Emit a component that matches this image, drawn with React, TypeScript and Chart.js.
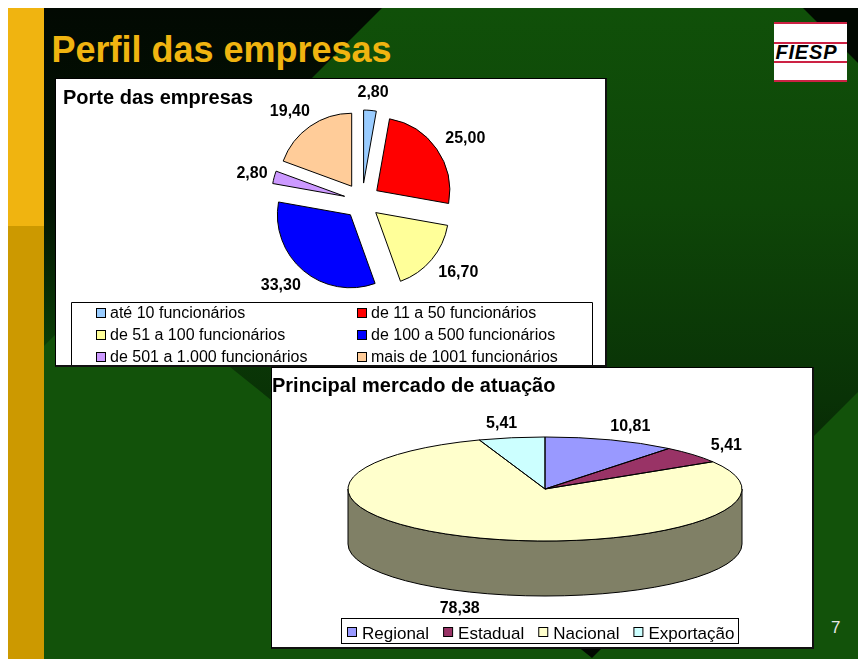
import React, { useEffect, useRef } from 'react';
import { Chart, registerables } from 'chart.js';

Chart.register(...registerables);

const FONT = '"Liberation Sans", Arial, Helvetica, sans-serif';

// ---- Data: Porte das empresas ----
const porteLabels = [
  'até 10 funcionários',
  'de 11 a 50 funcionários',
  'de 51 a 100 funcionários',
  'de 100 a 500 funcionários',
  'de 501 a 1.000 funcionários',
  'mais de 1001 funcionários',
];
const porteValues = [2.8, 25.0, 16.7, 33.3, 2.8, 19.4];

// ---- Data: Principal mercado de atuação ----
const mercadoLabels = ['Regional', 'Estadual', 'Nacional', 'Exportação'];
const mercadoValues = [10.81, 5.41, 78.38, 5.41];

// ---- Styles ----
const porteColors = ['#99CCFF', '#FF0000', '#FFFF99', '#0000FF', '#CC99FF', '#FFCC99'];
const mercadoColors = ['#9999FF', '#993366', '#FFFFCC', '#CCFFFF'];
const mercadoSideColors = ['#4D4D80', '#4D1A33', '#808066', '#668080'];

const fmt = (v: number) => v.toFixed(2).replace('.', ',');

function PorteChart() {
  const ref = useRef<HTMLCanvasElement>(null);
  useEffect(() => {
    const W = 549, H = 286, CX = 306, CY = 122, R = 73, EXPLODE = 18;
    const deco = {
      id: 'porteDeco',
      beforeDatasetDraw(chart: any, args: any) {
        const ctx = chart.ctx;
        args.meta.data.forEach((arc: any) => {
          const m = (arc.startAngle + arc.endAngle) / 2;
          ctx.save();
          ctx.translate(Math.cos(m) * EXPLODE, Math.sin(m) * EXPLODE);
          arc.draw(ctx);
          ctx.restore();
        });
        return false;
      },
      afterDraw(chart: any) {
        const ctx = chart.ctx;
        ctx.save();
        ctx.fillStyle = '#000';
        ctx.font = `bold 20px ${FONT}`;
        ctx.textAlign = 'left';
        ctx.textBaseline = 'alphabetic';
        ctx.fillText('Porte das empresas', 7, 25.3);

        // data labels
        ctx.font = `bold 16px ${FONT}`;
        ctx.textAlign = 'center';
        ctx.textBaseline = 'middle';
        const meta = chart.getDatasetMeta(0);
        meta.data.forEach((arc: any, i: number) => {
          const m = (arc.startAngle + arc.endAngle) / 2;
          const dx = Math.max(-110, Math.min(110, 126 * Math.cos(m)));
          const x = arc.x + dx;
          const y = arc.y + 110 * Math.sin(m);
          ctx.fillText(fmt(porteValues[i]), x, y + 1);
        });

        // legend
        const LX = 15, LT = 223, LR = 536;
        ctx.strokeStyle = '#000';
        ctx.lineWidth = 1;
        ctx.beginPath();
        ctx.moveTo(LX + 0.5, H + 5);
        ctx.lineTo(LX + 0.5, LT + 0.5);
        ctx.lineTo(LR + 0.5, LT + 0.5);
        ctx.lineTo(LR + 0.5, H + 5);
        ctx.stroke();
        ctx.font = `16px ${FONT}`;
        ctx.textAlign = 'left';
        ctx.textBaseline = 'alphabetic';
        porteLabels.forEach((lab, i) => {
          const col = i % 2, row = Math.floor(i / 2);
          const mx = LX + 25 + col * 261;
          const rc = LT + 10.7 + row * 21.65;
          ctx.fillStyle = porteColors[i];
          ctx.fillRect(mx + 0.5, Math.round(rc - 4.5) + 0.5, 9, 9);
          ctx.strokeRect(mx + 0.5, Math.round(rc - 4.5) + 0.5, 9, 9);
          ctx.fillStyle = '#000';
          ctx.fillText(lab, mx + 14, rc + 5.7);
        });
        ctx.restore();
      },
    };
    const chart = new Chart(ref.current as HTMLCanvasElement, {
      type: 'pie',
      data: {
        labels: porteLabels,
        datasets: [
          {
            data: porteValues,
            backgroundColor: porteColors,
            borderColor: '#000',
            borderWidth: 1,
            radius: R,
          } as any,
        ],
      },
      options: {
        responsive: false,
        animation: false,
        events: [],
        layout: { padding: { left: 2 * CX - W, right: 0, top: 0, bottom: H - 2 * CY } },
        plugins: { legend: { display: false }, tooltip: { enabled: false }, title: { display: false } },
      },
      plugins: [deco],
    });
    return () => chart.destroy();
  }, []);
  return <canvas ref={ref} width={549} height={286} style={{ position: 'absolute', left: 0, top: 0, display: 'block' }} />;
}

function MercadoChart() {
  const ref = useRef<HTMLCanvasElement>(null);
  useEffect(() => {
    const W = 540, H = 279, CX = 273, CY = 121, R = 197, TILT = 0.264, DEPTH = 55;
    const deco = {
      id: 'mercadoDeco',
      beforeDatasetDraw(chart: any, args: any) {
        const ctx = chart.ctx;
        const arcs = args.meta.data;
        const cx = arcs[0].x, cy = arcs[0].y, r = arcs[0].outerRadius, ry = r * TILT;
        ctx.save();
        ctx.lineWidth = 1;
        ctx.strokeStyle = '#000';
        // side walls (front half only)
        arcs.forEach((arc: any, i: number) => {
          const a = Math.max(arc.startAngle, 0);
          const b = Math.min(arc.endAngle, Math.PI);
          if (b <= a) return;
          ctx.beginPath();
          ctx.ellipse(cx, cy, r, ry, 0, a, b);
          ctx.lineTo(cx + r * Math.cos(b), cy + ry * Math.sin(b) + DEPTH);
          ctx.ellipse(cx, cy + DEPTH, r, ry, 0, b, a, true);
          ctx.closePath();
          ctx.fillStyle = mercadoSideColors[i];
          ctx.fill();
          ctx.stroke();
        });
        // top faces
        ctx.save();
        ctx.translate(cx, cy);
        ctx.scale(1, TILT);
        ctx.translate(-cx, -cy);
        arcs.forEach((arc: any) => arc.draw(ctx));
        ctx.restore();
        // outlines
        arcs.forEach((arc: any) => {
          ctx.beginPath();
          ctx.moveTo(cx, cy);
          ctx.ellipse(cx, cy, r, ry, 0, arc.startAngle, arc.endAngle);
          ctx.closePath();
          ctx.stroke();
        });
        ctx.restore();
        return false;
      },
      afterDraw(chart: any) {
        const ctx = chart.ctx;
        ctx.save();
        ctx.fillStyle = '#000';
        ctx.font = `bold 20px ${FONT}`;
        ctx.textAlign = 'left';
        ctx.textBaseline = 'alphabetic';
        ctx.fillText('Principal mercado de atuação', 0, 23.5);

        // data labels
        ctx.font = `bold 16px ${FONT}`;
        ctx.textAlign = 'center';
        ctx.textBaseline = 'middle';
        const meta = chart.getDatasetMeta(0);
        meta.data.forEach((arc: any, i: number) => {
          const m = (arc.startAngle + arc.endAngle) / 2;
          const txt = fmt(mercadoValues[i]);
          const w = ctx.measureText(txt).width;
          const r = arc.outerRadius;
          let x = arc.x + 1.3 * r * Math.cos(m);
          x = Math.max(arc.x - r + w / 2, Math.min(arc.x + r - w / 2, x));
          const s = Math.sin(m);
          const y = arc.y + TILT * 1.3 * r * s + (s > 0 ? DEPTH : 0);
          ctx.fillText(txt, x, y + 1);
        });

        // legend
        ctx.font = `17px ${FONT}`;
        ctx.textAlign = 'left';
        ctx.textBaseline = 'alphabetic';
        const LX = 69, LT = 250, LB = 275;
        let x = LX + 6;
        const mTop = 259;
        mercadoLabels.forEach((lab, i) => {
          ctx.fillStyle = mercadoColors[i];
          ctx.fillRect(x + 0.5, mTop + 0.5, 9, 9);
          ctx.strokeStyle = '#000';
          ctx.lineWidth = 1;
          ctx.strokeRect(x + 0.5, mTop + 0.5, 9, 9);
          ctx.fillStyle = '#000';
          ctx.fillText(lab, x + 15, 271);
          x += 15 + ctx.measureText(lab).width + 14;
        });
        const LR = Math.round(x - 14 + 4);
        ctx.strokeStyle = '#000';
        ctx.strokeRect(LX + 0.5, LT + 0.5, LR - LX, LB - LT);
        ctx.restore();
      },
    };
    const chart = new Chart(ref.current as HTMLCanvasElement, {
      type: 'pie',
      data: {
        labels: mercadoLabels,
        datasets: [
          {
            data: mercadoValues,
            backgroundColor: mercadoColors,
            borderWidth: 0,
            radius: R,
          } as any,
        ],
      },
      options: {
        responsive: false,
        animation: false,
        events: [],
        layout: { padding: { left: 2 * CX - W, right: 0, top: 0, bottom: H - 2 * CY } },
        plugins: { legend: { display: false }, tooltip: { enabled: false }, title: { display: false } },
      },
      plugins: [deco],
    });
    return () => chart.destroy();
  }, []);
  return <canvas ref={ref} width={540} height={279} style={{ position: 'absolute', left: 0, top: 0, display: 'block' }} />;
}

export default function App() {
  const boxStyle = (left: number, top: number, width: number, height: number): React.CSSProperties => ({
    position: 'absolute',
    left,
    top,
    width,
    height,
    boxSizing: 'border-box',
    background: '#fff',
    borderTop: '1px solid #000',
    borderLeft: '1px solid #000',
    borderRight: '2px solid #111',
    borderBottom: '2px solid #111',
    overflow: 'hidden',
  });
  const redLine = (top: number): React.CSSProperties => ({
    position: 'absolute', left: 0, top, width: 73, height: 2, background: '#CC2244',
  });
  return (
    <div style={{ position: 'fixed', left: 8, top: 8, width: 850, height: 651, overflow: 'hidden', fontFamily: FONT }}>
      <svg width={850} height={651} style={{ position: 'absolute', left: 0, top: 0 }}>
        <defs>
          <linearGradient id="band" x1="0" y1="0" x2="0" y2="651" gradientUnits="userSpaceOnUse">
            <stop offset="0" stopColor="#105009" />
            <stop offset="0.3" stopColor="#0E4608" />
            <stop offset="0.6" stopColor="#093206" />
            <stop offset="1" stopColor="#010801" />
          </linearGradient>
          <linearGradient id="tl" x1="0" y1="0" x2="0" y2="338" gradientUnits="userSpaceOnUse">
            <stop offset="0" stopColor="#020902" />
            <stop offset="0.6" stopColor="#031503" />
            <stop offset="1" stopColor="#0B3F07" />
          </linearGradient>
        </defs>
        <rect x={0} y={0} width={850} height={651} fill="#12520A" />
        <polygon points="374,0 795,0 850,55 850,384 584,650 222,359 36,210" fill="url(#band)" />
        <polygon points="36,0 374,0 36,338" fill="url(#tl)" />
        <polygon points="795,0 850,0 850,55" fill="#010801" />
        <rect x={0} y={0} width={36} height={218} fill="#F0B410" />
        <rect x={0} y={218} width={36} height={433} fill="#CC9900" />
      </svg>

      <div style={{ position: 'absolute', left: 43.4, top: 23.5, fontSize: 36, lineHeight: '36px', fontWeight: 'bold', color: '#F0B410', whiteSpace: 'nowrap' }}>
        Perfil das empresas
      </div>

      <div style={{ position: 'absolute', left: 766, top: 14, width: 73, height: 60, background: '#fff' }}>
        <div style={redLine(0)} />
        <div style={redLine(20)} />
        <div style={redLine(39)} />
        <div style={redLine(58)} />
        <div style={{ position: 'absolute', left: 1.5, top: 20, fontSize: 20, lineHeight: '20px', fontWeight: 'bold', fontStyle: 'italic', letterSpacing: 0.8, color: '#000' }}>
          FIESP
        </div>
      </div>

      <div style={boxStyle(47, 70, 552, 289)}>
        <PorteChart />
      </div>

      <div style={boxStyle(263, 359, 543, 282)}>
        <MercadoChart />
      </div>

      <div style={{ position: 'absolute', left: 823, top: 610.6, fontSize: 17, lineHeight: '17px', color: '#E6E6E6' }}>7</div>
    </div>
  );
}
